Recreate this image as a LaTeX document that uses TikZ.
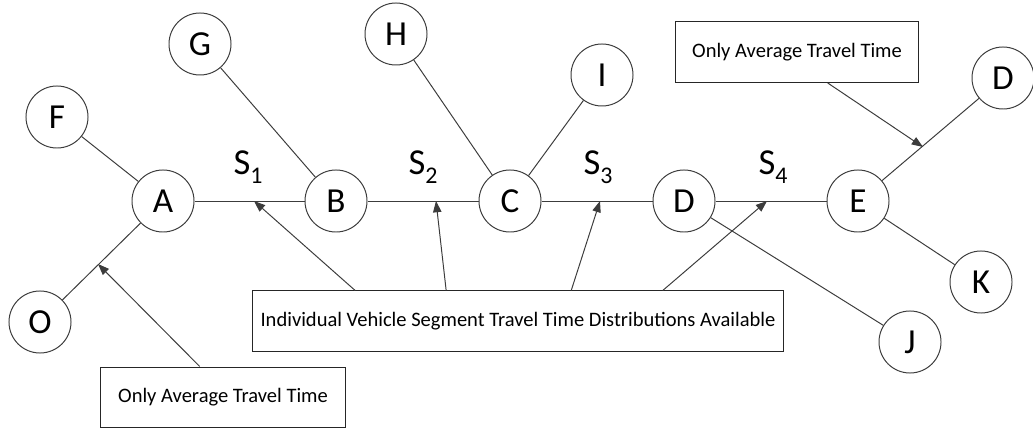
\documentclass[tikz,border=0pt]{standalone}
\usepackage{fontspec}
\setmainfont{Carlito}
\usetikzlibrary{arrows.meta,calc}
\definecolor{ln}{RGB}{60,60,60}

\begin{document}
\begin{tikzpicture}[
    x=0.025cm, y=-0.025cm,
    l/.style={
        line width=0.7pt,
        color=ln
    },
    c/.style={
        circle, minimum size=1.55cm, inner sep=0pt,
        draw=ln, line width=0.7pt,
        font=\fontsize{25}{25}\selectfont
    },
    box/.style={
        draw=black!85, line width=0.7pt, inner sep=0pt,
        minimum height=1.5cm,
        font=\fontsize{14.6}{17}\selectfont
    },
    seg/.style={anchor=base, font=\fontsize{26}{26}\selectfont},
    a/.style={l, -{Triangle[length=8pt,width=6pt]}}
]
\useasboundingbox (0,0) rectangle (1033,432);

% main road
\node [c] (A) at (163,201) {A};
\node [c] (B) at (336,201) {B};
\node [c] (C) at (510,201) {C};
\node [c] (D) at (684,201) {D};
\node [c] (E) at (858,201) {E};

% side roads
\node [c] (F) at (57,117) {F};
\node [c] (O) at (40,322) {O};
\node [c] (G) at (200,44) {G};
\node [c] (H) at (396,34) {H};
\node [c] (I) at (602,75) {I};
\node [c] (J) at (910,342) {J};
\node [c] (K) at (981,282) {K};
\node [c] (D2) at (1003,78) {D};

\draw (A) edge [l] (B);
\draw (B) edge [l] (C);
\draw (C) edge [l] (D);
\draw (D) edge [l] (E);
\draw (F) edge [l] (A);
\draw (O) edge [l] (A);
\draw (G) edge [l] (B);
\draw (H) edge [l] (C);
\draw (I) edge [l] (C);
\draw (D) edge [l] (J);
\draw (E) edge [l] (K);
\draw (E) edge [l] (D2);

\node [seg] (s1) at (248,175) {S\lower6pt\hbox{\fontsize{17}{17}\selectfont 1}};
\node [seg] (s2) at (423,175) {S\lower6pt\hbox{\fontsize{17}{17}\selectfont 2}};
\node [seg] (s3) at (598,175) {S\lower6pt\hbox{\fontsize{17}{17}\selectfont 3}};
\node [seg] (s4) at (773,175) {S\lower6pt\hbox{\fontsize{17}{17}\selectfont 4}};

% text boxes
\node [box, minimum width=13.275cm] (ind) at (518,321)
    {Individual Vehicle Segment Travel Time Distributions Available};
\node [box, minimum width=6.1cm] (avgL) at (223,397) {Only Average Travel Time};
\node [box, minimum width=6.075cm, minimum height=1.525cm] (avgR) at (797,52)
    {Only Average Travel Time};

% arrow tips on the links
\coordinate (t1) at (254,201);
\coordinate (t2) at (436,201);
\coordinate (t3) at (600,201);
\coordinate (t4) at (767,201);
\coordinate (tO) at (98,264);
\coordinate (tD) at (923,147);

\draw [a] ($(ind.north west)!0.194!(ind.north east)$) -- (t1);
\draw [a] ($(ind.north west)!0.365!(ind.north east)$) -- (t2);
\draw [a] ($(ind.north west)!0.60!(ind.north east)$) -- (t3);
\draw [a] ($(ind.north west)!0.772!(ind.north east)$) -- (t4);
\draw [a] ($(avgL.north west)!0.405!(avgL.north east)$) -- (tO);
\draw [a] ($(avgR.south west)!0.626!(avgR.south east)$) -- (tD);

\end{tikzpicture}
\end{document}
